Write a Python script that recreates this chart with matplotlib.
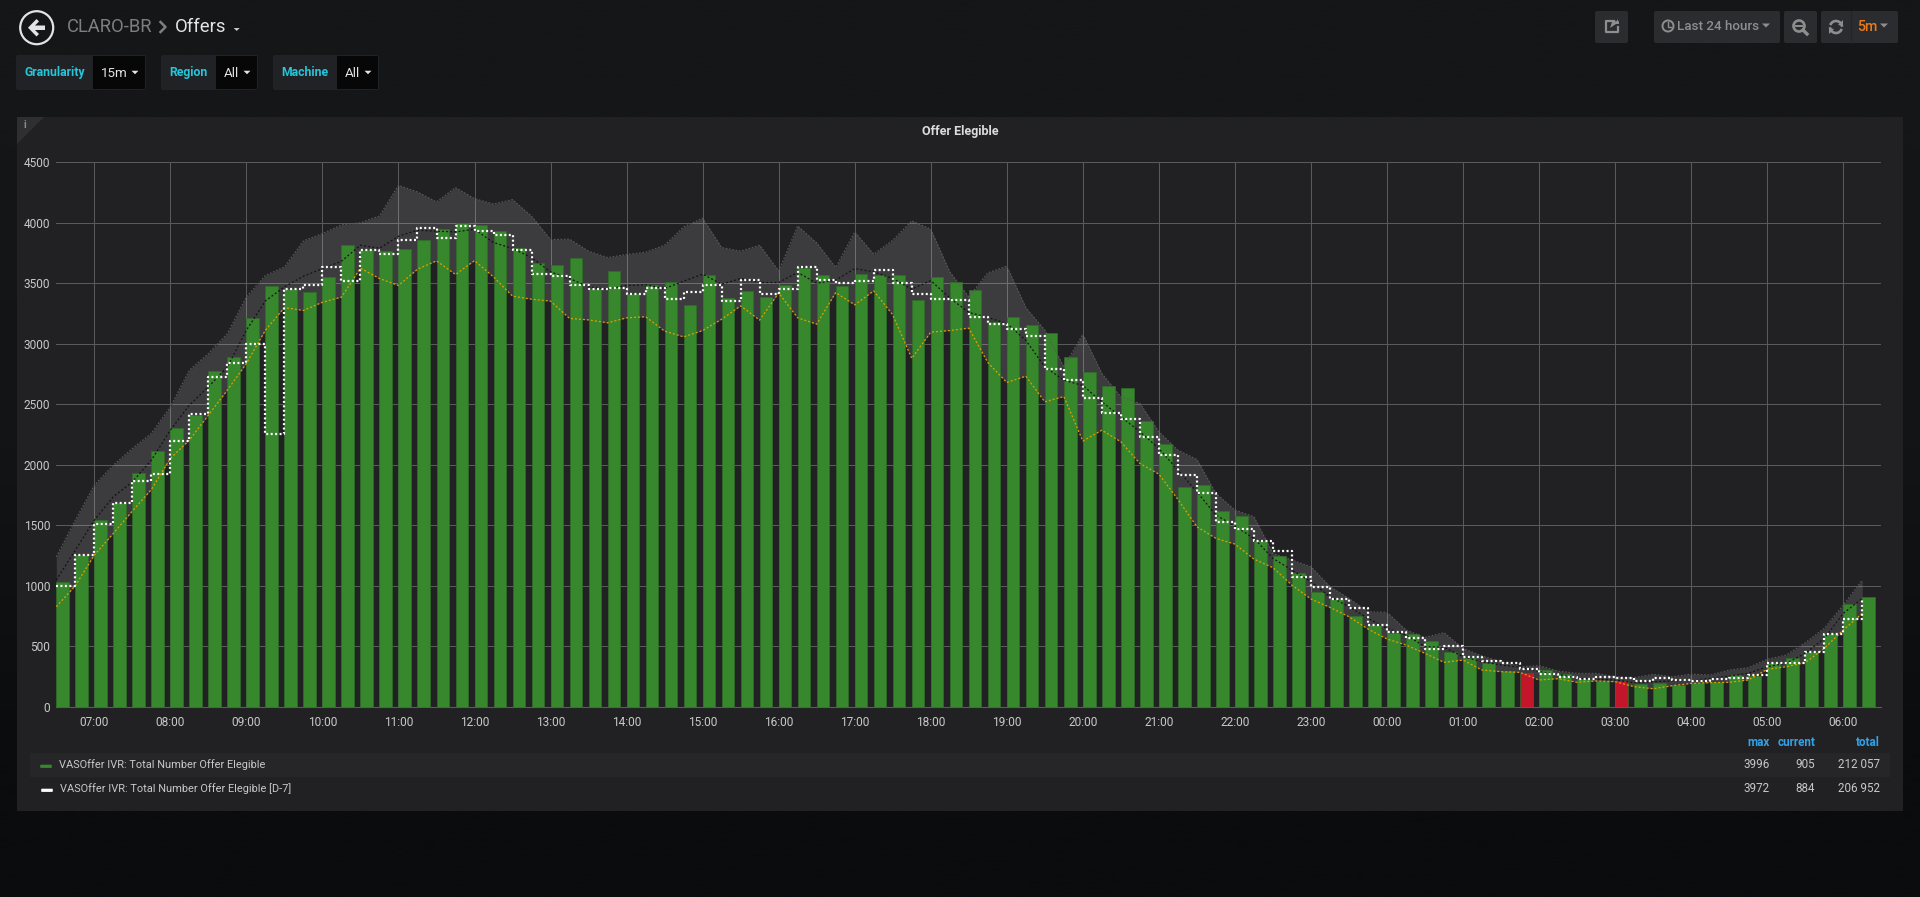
import matplotlib
matplotlib.use('agg')

import numpy as np
import matplotlib.pyplot as plt
from matplotlib.patches import Circle, FancyBboxPatch, Polygon, Rectangle

plt.rcParams['font.family'] = ['Roboto', 'DejaVu Sans']

# values, one per 15 minutes starting at 06:30
offers = [1029, 1255, 1544, 1687, 1932, 2114, 2304, 2411, 2772, 2893, 3215, 3476,
          3450, 3430, 3550, 3815, 3774, 3771, 3785, 3862, 3953, 3996, 3986, 3936,
          3796, 3672, 3655, 3708, 3457, 3600, 3416, 3485, 3515, 3317, 3573, 3380,
          3438, 3386, 3485, 3628, 3565, 3477, 3576, 3565, 3565, 3361, 3556, 3507,
          3443, 3180, 3220, 3152, 3086, 2890, 2764, 2651, 2634, 2362, 2172, 1814,
          1836, 1621, 1580, 1373, 1250, 1104, 952, 889, 751, 677, 608, 605,
          548, 454, 402, 366, 297, 278, 305, 272, 234, 217, 212, 190,
          198, 179, 201, 204, 264, 259, 361, 402, 457, 603, 848, 905]
offers_d7 = [996, 1255, 1508, 1687, 1866, 1921, 2199, 2419, 2728, 2843, 3003, 2257,
             3454, 3490, 3639, 3518, 3776, 3746, 3859, 3961, 3876, 3972, 3936, 3903,
             3776, 3575, 3561, 3485, 3452, 3463, 3410, 3463, 3372, 3432, 3490, 3352,
             3531, 3413, 3454, 3634, 3531, 3504, 3523, 3614, 3501, 3413, 3374, 3361,
             3218, 3168, 3119, 3066, 2793, 2700, 2549, 2425, 2378, 2230, 2081, 1913,
             1770, 1530, 1473, 1373, 1285, 1076, 991, 889, 820, 680, 617, 573,
             482, 506, 416, 380, 366, 317, 272, 245, 231, 245, 242, 212,
             239, 226, 212, 234, 242, 264, 366, 366, 457, 603, 727, 884]
band_low = [829, 1002, 1255, 1434, 1618, 1797, 2053, 2205, 2411, 2618, 2838, 3113,
            3300, 3276, 3344, 3386, 3625, 3540, 3482, 3617, 3686, 3573, 3688, 3553,
            3394, 3369, 3353, 3210, 3198, 3174, 3215, 3224, 3105, 3058, 3110, 3204,
            3314, 3196, 3421, 3215, 3163, 3424, 3322, 3438, 3240, 2880, 3097, 3110,
            3130, 2846, 2681, 2733, 2521, 2565, 2197, 2287, 2191, 2012, 1924, 1715,
            1489, 1393, 1346, 1222, 1151, 1007, 892, 823, 746, 644, 562, 512,
            443, 369, 388, 305, 292, 286, 223, 234, 204, 215, 209, 168,
            151, 176, 195, 201, 204, 223, 311, 333, 366, 484, 636, 773]
band_mean = [1049, 1296, 1544, 1737, 1860, 2040, 2287, 2494, 2645, 2810, 3113, 3355,
             3471, 3559, 3622, 3683, 3815, 3790, 3889, 3939, 3931, 3925, 3947, 3837,
             3788, 3713, 3595, 3540, 3471, 3452, 3482, 3488, 3457, 3518, 3576, 3493,
             3540, 3507, 3507, 3590, 3501, 3526, 3622, 3595, 3540, 3452, 3523, 3380,
             3260, 3218, 3168, 3030, 2810, 2700, 2656, 2521, 2398, 2274, 2136, 1957,
             1778, 1585, 1495, 1393, 1228, 1131, 1035, 911, 829, 732, 650, 595,
             498, 493, 416, 374, 347, 328, 292, 270, 237, 231, 223, 201,
             209, 215, 217, 237, 256, 278, 333, 361, 443, 567, 773, 897]
band_high = [1241, 1544, 1833, 1998, 2136, 2260, 2480, 2783, 2920, 3085, 3388, 3565,
             3636, 3851, 3911, 3983, 4000, 4057, 4310, 4255, 4173, 4291, 4200, 4155,
             4192, 4054, 3862, 3865, 3766, 3713, 3738, 3757, 3815, 3966, 4038, 3796,
             3766, 3815, 3603, 3974, 3834, 3631, 3925, 3741, 3856, 4016, 3947, 3595,
             3388, 3587, 3642, 3300, 3113, 2810, 3080, 2755, 2563, 2508, 2274, 2122,
             2045, 1764, 1627, 1572, 1269, 1214, 1159, 994, 897, 787, 782, 636,
             575, 614, 484, 421, 374, 333, 341, 297, 278, 278, 250, 242,
             270, 250, 272, 264, 305, 325, 394, 429, 531, 650, 842, 1049]
red_bars = [77, 82]

hour_labels = ['07:00', '08:00', '09:00', '10:00', '11:00', '12:00', '13:00', '14:00',
               '15:00', '16:00', '17:00', '18:00', '19:00', '20:00', '21:00', '22:00',
               '23:00', '00:00', '01:00', '02:00', '03:00', '04:00', '05:00', '06:00']
y_ticks = [0, 500, 1000, 1500, 2000, 2500, 3000, 3500, 4000, 4500]

legend_names = ['VASOffer IVR: Total Number Offer Elegible',
                'VASOffer IVR: Total Number Offer Elegible [D-7]']
legend_max = ['3996', '3972']
legend_current = ['905', '884']
legend_total = ['212 057', '206 952']

W, H = 1920, 897
fig = plt.figure(figsize=(W / 100, H / 100), dpi=100)

# page layer, coordinates are screen pixels
bg = fig.add_axes([0, 0, 1, 1], zorder=0)
bg.axis('off')
shade = np.array([[0x15, 0x16, 0x18], [0x13, 0x14, 0x16], [0x0b, 0x0c, 0x0e]]) / 255
bg.imshow(shade[:, None, :], extent=[0, W, H, 0], aspect='auto', interpolation='bilinear')
bg.set_xlim(0, W)
bg.set_ylim(H, 0)


def box(x0, y0, x1, y1, color, ax=bg, z=1):
    ax.add_patch(Rectangle((x0, y0), x1 - x0, y1 - y0, fc=color, ec='none', zorder=z))


def rbox(x0, y0, x1, y1, color):
    bg.add_patch(FancyBboxPatch((x0 + 2, y0 + 2), x1 - x0 - 4, y1 - y0 - 4,
                                boxstyle='round,pad=2', fc=color, ec='none', zorder=1))


def caret(x, y, color, size=4.5):
    bg.add_patch(Polygon([(x - size, y - size / 2), (x + size, y - size / 2), (x, y + size / 2)],
                         fc=color, ec='none', zorder=3))


def label(x, y, s, color='#c8c8c8', size=8.7, ha='left', weight='normal'):
    bg.text(x, y, s, color=color, fontsize=size, ha=ha, va='center', weight=weight, zorder=4)


# header
bg.add_patch(Circle((36.7, 27.7), 16.5, fc='none', ec='#e4e4e4', lw=1.6, zorder=3))
bg.add_patch(Polygon([(28, 27.7), (36.5, 19), (39, 21.5), (35, 25.5), (45, 25.5), (45, 30),
                      (35, 30), (39, 34), (36.5, 36.5)], fc='#e4e4e4', ec='none', zorder=3))
label(67, 27.5, 'CLARO-BR', '#7f7f7f', 13.2)
bg.plot([160.5, 165.5, 160.5], [22, 27, 32], color='#7f7f7f', lw=1.8, zorder=3)
label(175, 27.5, 'Offers', '#e4e4e4', 13.3)
caret(236.7, 29.5, '#c8c8c8', 3)

# template variables
variables = [(16, 93, 146, 'Granularity', '15m'), (161, 215.5, 258, 'Region', 'All'),
             (273, 337, 379, 'Machine', 'All')]
for x0, xm, x1, name, value in variables:
    rbox(x0, 55, x1, 90, '#202226')
    box(xm, 56, x1 - 1, 89, '#070708', z=2)
    label((x0 + xm) / 2, 72.5, name, '#26c6da', 8.8, ha='center', weight='bold')
    label(xm + 8, 73.5, value, '#e4e4e4', 9.6)
    caret(x1 - 11, 72.5, '#e4e4e4', 3.5)

# top right buttons
for x0, x1 in [(1595, 1628), (1654, 1780), (1784, 1817), (1821, 1898)]:
    rbox(x0, 11, x1, 43, '#2b2c2f')
btn = '#8e8e8e'
bg.plot([1851, 1851], [11, 43], color='#242527', lw=1, zorder=3)
# share icon
bg.plot([1614, 1606, 1606, 1618, 1618], [21, 21, 32, 32, 27], color=btn, lw=1.6, zorder=3)
bg.add_patch(Polygon([(1617, 19), (1619, 22), (1619, 24), (1616, 24), (1610, 28), (1612, 22), (1617, 21)],
                     fc=btn, ec='none', zorder=3))
# clock
bg.add_patch(Circle((1668, 26), 5.5, fc='none', ec=btn, lw=1.4, zorder=3))
bg.plot([1668, 1668, 1671], [22.5, 27, 27], color=btn, lw=1, zorder=3)
label(1677, 27, 'Last 24 hours', btn, 9.6, weight='medium')
caret(1766, 25.5, btn, 4)
# zoom out
bg.add_patch(Circle((1799, 26), 5.5, fc='none', ec=btn, lw=1.9, zorder=3))
bg.plot([1796, 1802], [26, 26], color=btn, lw=1.4, zorder=3)
bg.plot([1803, 1807], [30, 34], color=btn, lw=2.4, zorder=3)
# refresh
t = np.linspace(0.25, 2.6, 20)
bg.plot(1836 + 6 * np.cos(-t), 27 + 6 * np.sin(-t), color=btn, lw=1.9, zorder=3)
bg.plot(1836 + 6 * np.cos(np.pi - t), 27 + 6 * np.sin(np.pi - t), color=btn, lw=1.9, zorder=3)
bg.add_patch(Polygon([(1843, 20), (1843, 26), (1838, 25)], fc=btn, ec='none', zorder=3))
bg.add_patch(Polygon([(1829, 34), (1829, 28), (1834, 29)], fc=btn, ec='none', zorder=3))
label(1857, 27, '5m', '#eb7b18', 10.2, weight='medium')
caret(1884, 25.5, btn, 4)

# panel
box(17, 117, 1903, 811, '#212124')
bg.add_patch(Polygon([(17, 117), (44, 117), (17, 144)], fc='#2f2f32', ec='none', zorder=2))
label(24.5, 125, 'i', '#8e8e8e', 7.5, ha='center', weight='bold')
label(960, 131, 'Offer Elegible', '#dcdcdc', 9, ha='center', weight='bold')

# legend rows and table
box(30, 753, 1890, 777, '#262628')
swatches = ['#37872d', '#ffffff']
for row, (y, name) in enumerate(zip([765, 789], legend_names)):
    bg.add_patch(FancyBboxPatch((41 + row, y + 0.5), 10, 1.6, boxstyle='round,pad=0.8',
                                fc=swatches[row], ec='none', zorder=3))
    label(59 + row, y, name, '#c8c8c8', 7.95)
    label(1770, y, legend_max[row], ha='right', size=8.4)
    label(1815, y, legend_current[row], ha='right', size=8.4)
    label(1880, y, legend_total[row], ha='right', size=8.4)
label(1770, 743, 'max', '#33a2e5', 8.4, ha='right', weight='bold')
label(1815, 743, 'current', '#33a2e5', 8.4, ha='right', weight='bold')
label(1880, 743, 'total', '#33a2e5', 8.4, ha='right', weight='bold')

# the graph itself
left, right, top, bottom = 56.3, 1881, 162.3, 707
ax = fig.add_axes([left / W, 1 - bottom / H, (right - left) / W, (bottom - top) / H], zorder=1)
ax.patch.set_alpha(0)

x = np.arange(len(offers)) * 0.25  # hours since 06:30
colors = ['#c4162a' if i in red_bars else '#37872d' for i in range(len(offers))]

ax.fill_between(x, band_low, band_high, color='white', alpha=0.125, lw=0, zorder=2)
ax.bar(x, offers, width=10 / 60, align='edge', color=colors, edgecolor='#2f6f28', linewidth=0.5, zorder=3)
ax.plot(x, band_high, color='#5a5a5c', lw=0.8, dashes=(1.5, 1.5), zorder=4)
ax.plot(x, band_low, color='#e0a000', lw=0.9, dashes=(1.6, 1.6), zorder=5)
ax.plot(x, band_mean, color='#111111', lw=0.9, dashes=(1.5, 1.8), zorder=5)
ax.plot(x, offers_d7, color='white', lw=1.6, dashes=(0.9, 1.1), drawstyle='steps-post', zorder=6)

ax.set_xlim(0, (right - left) / 76.04)
ax.set_ylim(0, 4500)
ax.set_xticks(0.5 + np.arange(len(hour_labels)), hour_labels)
ax.set_yticks(y_ticks)
ax.grid(True, color='#5a5a5c', lw=0.72, zorder=1)
ax.set_axisbelow(True)
for side in ['top', 'right', 'left']:
    ax.spines[side].set_visible(False)
ax.spines['bottom'].set_color('#5a5a5c')
ax.tick_params(length=0, labelcolor='#c8c8c8', labelsize=8.6)
ax.tick_params(axis='x', pad=6.5)
ax.tick_params(axis='y', pad=4.3)

plt.savefig('out.png', dpi=100)
